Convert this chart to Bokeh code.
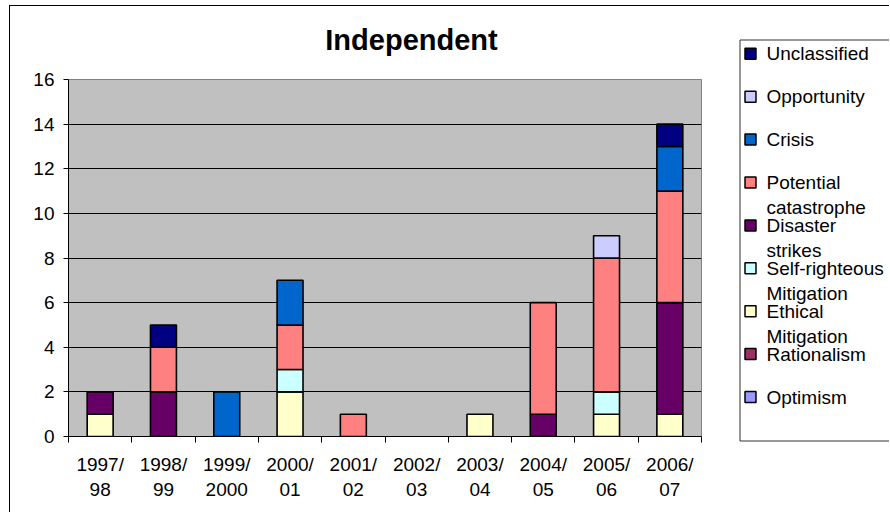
import numpy as np
from bokeh.plotting import figure
from bokeh.models import ColumnDataSource, Range1d, FixedTicker, LinearAxis, Grid
from bokeh.layouts import row, column
from bokeh.embed import file_html
from bokeh.resources import INLINE
from bokeh.core.properties import value

# ---- data -------------------------------------------------------------
seasons = ["1997/98", "1998/99", "1999/2000", "2000/01", "2001/02",
           "2002/03", "2003/04", "2004/05", "2005/06", "2006/07"]

# series, listed from the bottom of each stack to the top
series_names = ["Optimism", "Rationalism", "Ethical Mitigation",
                "Self-righteous Mitigation", "Disaster strikes",
                "Potential catastrophe", "Crisis", "Opportunity", "Unclassified"]

optimism       = [0, 0, 0, 0, 0, 0, 0, 0, 0, 0]
rationalism    = [0, 0, 0, 0, 0, 0, 0, 0, 0, 0]
ethical        = [1, 0, 0, 2, 0, 0, 1, 0, 1, 1]
self_righteous = [0, 0, 0, 1, 0, 0, 0, 0, 1, 0]
disaster       = [1, 2, 0, 0, 0, 0, 0, 1, 0, 5]
potential      = [0, 2, 0, 2, 1, 0, 0, 5, 6, 5]
crisis         = [0, 0, 2, 2, 0, 0, 0, 0, 0, 2]
opportunity    = [0, 0, 0, 0, 0, 0, 0, 0, 1, 0]
unclassified   = [0, 1, 0, 0, 0, 0, 0, 0, 0, 1]

series_colors = ["#9999FF", "#993366", "#FFFFCC", "#CCFFFF", "#660066",
                 "#FF8080", "#0066CC", "#CCCCFF", "#000080"]

# wrapped legend texts (legend lists the top of the stack first)
legend_texts = {
    "Unclassified": "Unclassified",
    "Opportunity": "Opportunity",
    "Crisis": "Crisis",
    "Potential catastrophe": "Potential\ncatastrophe",
    "Disaster strikes": "Disaster\nstrikes",
    "Self-righteous Mitigation": "Self-righteous\nMitigation",
    "Ethical Mitigation": "Ethical\nMitigation",
    "Rationalism": "Rationalism",
    "Optimism": "Optimism",
}

y_ticks = [0, 2, 4, 6, 8, 10, 12, 14, 16]

chart_title = "Independent"

FONT = "Liberation Sans"

# ---- title strip (pixel coordinates, y measured from the top) ------------
CHART_W = 720
TITLE_H = 60
title_fig = figure(width=CHART_W, height=TITLE_H,
                   x_range=Range1d(0, CHART_W), y_range=Range1d(TITLE_H, 0),
                   x_axis_type=None, y_axis_type=None,
                   output_backend="svg", toolbar_location=None,
                   min_border=0, outline_line_color=None,
                   background_fill_color="white", border_fill_color="white")
title_fig.text(x=[401], y=[33.5], text=[chart_title], text_font=value(FONT),
               text_font_size="29px", text_font_style="bold",
               text_align="center", text_baseline="alphabetic", text_color="black")

# ---- main chart ---------------------------------------------------------
values = [optimism, rationalism, ethical, self_righteous, disaster,
          potential, crisis, opportunity, unclassified]
x_centers = np.arange(len(seasons)) + 0.5
data = {"x": x_centers}
outline_alpha_fields = []
for name, vals in zip(series_names, values):
    data[name] = vals
    # empty segments get no outline
    alpha_field = name + " outline"
    data[alpha_field] = [1.0 if v > 0 else 0.0 for v in vals]
    outline_alpha_fields.append(alpha_field)
source = ColumnDataSource(data)

p = figure(width=CHART_W, height=506 - TITLE_H,
           x_range=Range1d(0, len(seasons)), y_range=Range1d(y_ticks[0], y_ticks[-1]),
           x_axis_type=None, y_axis_type=None,
           output_backend="svg", toolbar_location=None,
           min_border_left=58, min_border_right=29,
           min_border_top=73 - TITLE_H, min_border_bottom=76,
           background_fill_color="#C0C0C0", border_fill_color="white",
           outline_line_color="#808080", outline_line_width=1)

grid = Grid(dimension=1, ticker=FixedTicker(ticks=y_ticks[1:-1]),
            grid_line_color="black", grid_line_width=1)
p.add_layout(grid)

p.vbar_stack(series_names, x="x", width=0.41, source=source,
             fill_color=series_colors, line_color="black", line_width=1.6,
             line_alpha=outline_alpha_fields)

yaxis = LinearAxis(ticker=FixedTicker(ticks=y_ticks, minor_ticks=[]),
                   axis_line_color="black", axis_line_width=1,
                   major_tick_line_color="black", major_tick_out=5, major_tick_in=0,
                   minor_tick_line_color=None,
                   major_label_standoff=9,
                   major_label_text_font=FONT, major_label_text_font_size="19px",
                   major_label_text_color="black")
p.add_layout(yaxis, "left")

boundaries = list(range(len(seasons) + 1))
xaxis = LinearAxis(ticker=FixedTicker(ticks=list(x_centers), minor_ticks=boundaries),
                   axis_line_color="black", axis_line_width=1,
                   major_tick_line_color=None, major_tick_out=0, major_tick_in=0,
                   minor_tick_line_color="black", minor_tick_out=6, minor_tick_in=0,
                   major_label_standoff=11,
                   major_label_text_font=FONT, major_label_text_font_size="19px",
                   major_label_text_line_height=1.22,
                   major_label_text_color="black",
                   major_label_overrides={float(c): s.replace("/", "/\n")
                                          for c, s in zip(x_centers, seasons)})
p.add_layout(xaxis, "below")

# ---- legend panel ---------------------------------------------------------
LEG_W, LEG_H = 159, 506
leg = figure(width=LEG_W, height=LEG_H,
             x_range=Range1d(0, LEG_W), y_range=Range1d(LEG_H, 0),
             x_axis_type=None, y_axis_type=None,
             output_backend="svg", toolbar_location=None,
             min_border=0, outline_line_color=None,
             background_fill_color="white", border_fill_color="white")

BOX_LEFT, BOX_TOP, BOX_BOTTOM = 9.5, 33.5, 434.5
ROW0, ROW_STEP, LINE_STEP = 47.3, 42.9, 25.0
MARK_X, TEXT_X = 20.0, 36.0

leg.quad(left=[BOX_LEFT], right=[LEG_W + 20], top=[BOX_TOP], bottom=[BOX_BOTTOM],
         fill_color=None, line_color="#333333", line_width=1)

order = list(reversed(series_names))
order_colors = list(reversed(series_colors))
mark_y = [ROW0 + i * ROW_STEP for i in range(len(order))]
leg.scatter(x=[MARK_X] * len(order), y=mark_y, marker="square", size=11,
            fill_color=order_colors, line_color="black", line_width=1.5)

tx, ty, tt = [], [], []
for i, name in enumerate(order):
    for j, line in enumerate(legend_texts[name].split("\n")):
        tx.append(TEXT_X)
        ty.append(mark_y[i] + j * LINE_STEP)
        tt.append(line)
leg.text(x=tx, y=ty, text=tt, text_font=value(FONT), text_font_size="19px",
         text_baseline="middle", text_align="left", text_color="black")

# title strip and legend each sit in their own column so their frames keep
# their full size instead of lining up with the chart frame
layout = row(column(column(title_fig), p), column(leg),
             styles={"margin-left": "9px", "margin-top": "5px",
                     "border-left": "1px solid #000",
                     "border-top": "1px solid #000"})

with open("out.html", "w") as f:
    f.write(file_html(layout, INLINE, title=chart_title))
